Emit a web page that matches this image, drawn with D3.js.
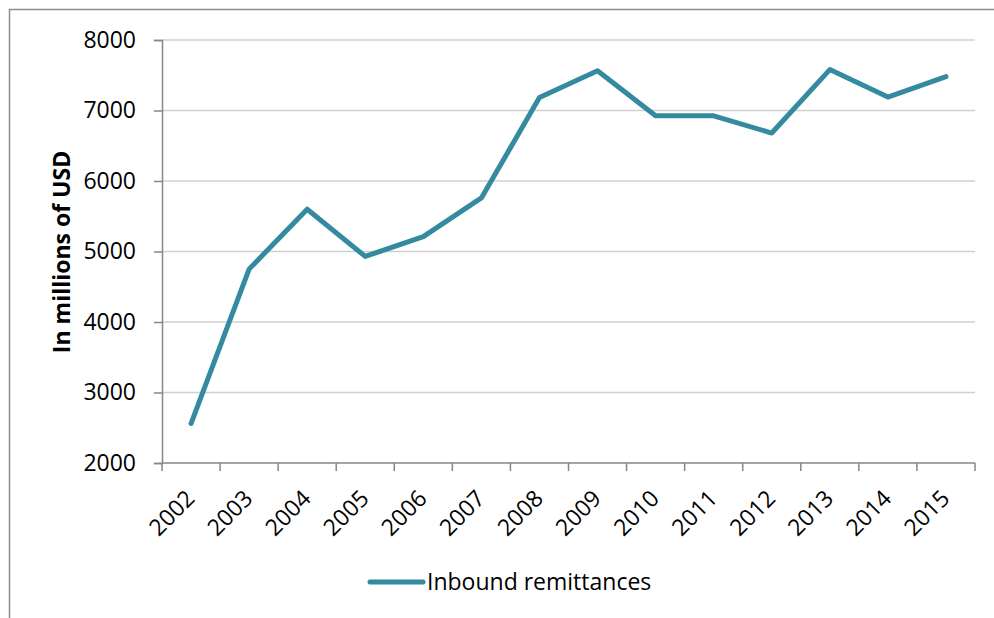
<!DOCTYPE html>
<html>
<head>
  <script src="https://d3js.org/d3.v7.min.js"></script>
  <style>
  body { margin: 0; background: #fff; }
  text { font-family: "Open Sans", sans-serif; fill: #000; }
  </style>
</head>
<body>
  <script>
  var w = 994;
  var h = 618;

  //Chart data
  var years = ["2002","2003","2004","2005","2006","2007","2008","2009","2010","2011","2012","2013","2014","2015"];
  var remittances = [2560, 4750, 5600, 4930, 5210, 5760, 7185, 7565, 6925, 6925, 6680, 7580, 7190, 7480];
  var yTicks = [2000, 3000, 4000, 5000, 6000, 7000, 8000];
  var seriesName = "Inbound remittances";
  var yTitle = "In millions of USD";

  var margin = {left: 162, right: 19, top: 40, bottom: 155};

  var svg = d3.select("body")
    .append("svg")
    .attr("width", w)
    .attr("height", h);

  //Outer chart frame (left and top edges visible)
  svg.append("rect")
    .attr("x", 9.5)
    .attr("y", 9.5)
    .attr("width", w + 20)
    .attr("height", h + 20)
    .attr("fill", "none")
    .attr("stroke", "#8c8c8c")
    .attr("stroke-width", 1.5);

  var x = d3.scaleBand()
    .domain(years)
    .range([margin.left, w - margin.right]);

  var y = d3.scaleLinear()
    .domain([2000, 8000])
    .range([h - margin.bottom, margin.top]);

  //Gridlines
  svg.append("g")
    .selectAll("line")
    .data(yTicks.slice(1))
    .enter()
    .append("line")
      .attr("x1", margin.left)
      .attr("x2", w - margin.right)
      .attr("y1", function(d){ return y(d); })
      .attr("y2", function(d){ return y(d); })
      .attr("stroke", "#d0d0d0")
      .attr("stroke-width", 1.5);

  //Y axis
  var yAxis = svg.append("g")
    .attr("transform", "translate(" + margin.left + ",0)")
    .call(d3.axisLeft(y).tickValues(yTicks).tickSize(8).tickPadding(18).tickFormat(d3.format("d")));
  yAxis.selectAll("text").style("font-size", "23px");
  yAxis.select(".domain").attr("stroke", "#868686").attr("stroke-width", 1.5);
  yAxis.selectAll(".tick line").attr("stroke", "#868686").attr("stroke-width", 1.5);

  //X axis, ticks at band boundaries
  var xAxis = svg.append("g")
    .attr("transform", "translate(0," + y(2000) + ")");
  xAxis.append("line")
    .attr("x1", margin.left)
    .attr("x2", w - margin.right)
    .attr("stroke", "#868686")
    .attr("stroke-width", 1.5);
  xAxis.selectAll(".tk")
    .data(years.concat(["end"]))
    .enter()
    .append("line")
      .attr("class", "tk")
      .attr("x1", function(d, i){ return margin.left + i * x.step(); })
      .attr("x2", function(d, i){ return margin.left + i * x.step(); })
      .attr("y1", 0)
      .attr("y2", 8)
      .attr("stroke", "#868686")
      .attr("stroke-width", 1.5);
  xAxis.selectAll(".lbl")
    .data(years)
    .enter()
    .append("text")
      .attr("class", "lbl")
      .attr("text-anchor", "end")
      .attr("transform", function(d){
        return "translate(" + (x(d) + x.bandwidth() / 2 + 5) + ",37)rotate(-45)";
      })
      .style("font-size", "23px")
      .text(function(d){ return d; });

  //Y title
  svg.append("text")
    .attr("transform", "translate(70," + 252 + ")rotate(-90)")
    .attr("text-anchor", "middle")
    .style("font-size", "23px")
    .style("font-weight", "bold")
    .text(yTitle);

  //Series line
  var line = d3.line()
    .x(function(d, i){ return x(years[i]) + x.bandwidth() / 2; })
    .y(function(d){ return y(d); });

  svg.append("path")
    .datum(remittances)
    .attr("d", line)
    .attr("fill", "none")
    .attr("stroke", "#348a9f")
    .attr("stroke-width", 5)
    .attr("stroke-linejoin", "round")
    .attr("stroke-linecap", "round");

  //Legend
  var legend = svg.append("g").attr("transform", "translate(370,582)");
  legend.append("line")
    .attr("x1", 0)
    .attr("x2", 53)
    .attr("stroke", "#348a9f")
    .attr("stroke-width", 5)
    .attr("stroke-linecap", "round");
  legend.append("text")
    .attr("x", 57)
    .attr("y", 8)
    .style("font-size", "23px")
    .text(seriesName);
  </script>
</body>
</html>
